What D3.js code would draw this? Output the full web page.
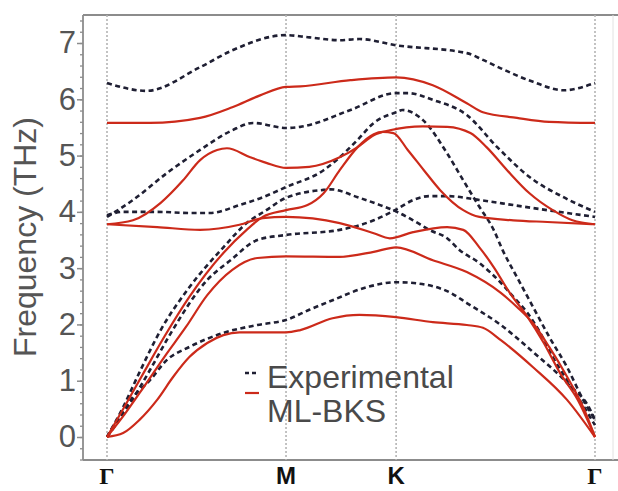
<!DOCTYPE html>
<html>
<head>
<meta charset="utf-8">
<script src="https://cdn.jsdelivr.net/npm/d3@7"></script>
<style>
  body { margin: 0; background: #fff; }
  svg { display: block; }
</style>
</head>
<body>
<div class="chart"></div>
<script>
// high symmetry points along the path
var kTicks = [0, 1.0, 1.615, 2.726];
var kLabels = ["Γ", "M", "K", "Γ"];
var freqTicks = [0, 1, 2, 3, 4, 5, 6, 7];

// experimental branches [k, THz]
var exp1 = [[0,6.29],[0.22,6.15],[0.52,6.57],[0.70,6.87],[1.0,7.14],[1.13,7.10],[1.30,7.05],[1.41,7.07],[1.615,6.96],[2.01,6.82],[2.10,6.70],[2.20,6.55],[2.38,6.31],[2.55,6.16],[2.726,6.29]];
var exp2 = [[0,3.91],[0.145,4.21],[0.335,4.69],[0.52,5.10],[0.70,5.45],[0.816,5.58],[1.0,5.49],[1.08,5.51],[1.36,5.81],[1.615,6.11],[1.68,6.11],[1.82,5.99],[2.01,5.72],[2.18,5.15],[2.36,4.62],[2.55,4.26],[2.726,4.00]];
var exp3 = [[0,3.94],[0.09,4.0],[0.28,4.0],[0.46,3.98],[0.575,3.98],[0.74,4.12],[0.87,4.26],[1.0,4.44],[1.21,4.74],[1.30,4.97],[1.40,5.28],[1.49,5.58],[1.615,5.77],[1.65,5.81],[1.765,5.63],[1.90,5.04],[1.99,4.56],[2.08,4.09],[2.16,3.68],[2.21,3.32],[2.29,2.84],[2.38,2.31],[2.47,1.78],[2.57,1.24],[2.66,0.66],[2.726,0.30]];
var exp4 = [[0,0],[0.09,0.53],[0.18,1.14],[0.30,1.90],[0.46,2.66],[0.65,3.37],[0.78,3.80],[0.89,4.03],[1.0,4.25],[1.21,4.39],[1.25,4.40],[1.40,4.26],[1.525,4.12],[1.62,4.00],[1.71,3.85],[1.80,3.68],[1.90,3.53],[1.97,3.32],[2.08,3.09],[2.20,2.74],[2.27,2.49],[2.35,2.20],[2.42,1.85],[2.49,1.42],[2.57,1.01],[2.64,0.66],[2.726,0.21]];
var exp5 = [[0,0],[0.13,0.60],[0.24,1.19],[0.35,1.81],[0.56,2.79],[0.69,3.14],[0.84,3.50],[1.0,3.59],[1.30,3.68],[1.49,3.85],[1.62,4.05],[1.71,4.21],[1.80,4.28],[1.90,4.28],[2.08,4.21],[2.27,4.12],[2.46,4.03],[2.726,3.91]];
var exp6 = [[0,0],[0.034,0.18],[0.145,0.71],[0.24,1.01],[0.335,1.37],[0.46,1.60],[0.65,1.85],[0.84,1.99],[1.0,2.08],[1.13,2.26],[1.26,2.43],[1.45,2.66],[1.615,2.75],[1.73,2.73],[1.92,2.56],[2.01,2.38],[2.20,1.99],[2.38,1.51],[2.57,0.96],[2.70,0.48],[2.726,0.30]];

// ML-BKS branches [k, THz]
var ml1 = [[0,0],[0.09,0.07],[0.18,0.30],[0.28,0.66],[0.37,1.07],[0.46,1.42],[0.56,1.67],[0.65,1.81],[0.74,1.86],[1.0,1.86],[1.08,1.90],[1.26,2.11],[1.41,2.17],[1.615,2.13],[1.82,2.04],[2.01,1.99],[2.10,1.94],[2.20,1.72],[2.38,1.24],[2.57,0.66],[2.726,0]];
var ml2 = [[0,0],[0.10,0.41],[0.21,0.91],[0.32,1.42],[0.44,1.95],[0.56,2.52],[0.70,2.97],[0.84,3.18],[1.0,3.21],[1.30,3.20],[1.49,3.29],[1.615,3.37],[1.82,3.14],[2.01,2.93],[2.20,2.56],[2.29,2.31],[2.38,2.02],[2.47,1.60],[2.57,1.07],[2.66,0.53],[2.726,0]];
var ml3 = [[0,0],[0.10,0.55],[0.21,1.17],[0.32,1.78],[0.46,2.49],[0.65,3.27],[0.78,3.68],[0.87,3.91],[1.0,4.03],[1.12,4.12],[1.21,4.33],[1.30,4.74],[1.40,5.15],[1.49,5.38],[1.54,5.42],[1.60,5.40],[1.68,5.10],[1.77,4.74],[1.86,4.39],[1.99,4.03],[2.08,3.91],[2.27,3.85],[2.46,3.82],[2.726,3.78]];
var ml4 = [[0,3.78],[0.145,3.85],[0.30,4.16],[0.425,4.56],[0.52,4.92],[0.615,5.10],[0.67,5.13],[0.80,4.97],[0.89,4.87],[1.0,4.78],[1.13,4.80],[1.30,4.97],[1.40,5.15],[1.49,5.36],[1.58,5.45],[1.765,5.52],[1.90,5.51],[2.03,5.40],[2.12,5.15],[2.235,4.74],[2.36,4.33],[2.49,4.03],[2.60,3.85],[2.726,3.78]];
var ml5 = [[0,3.78],[0.28,3.73],[0.52,3.68],[0.74,3.77],[0.87,3.89],[1.0,3.91],[1.30,3.80],[1.49,3.62],[1.58,3.53],[1.71,3.64],[1.90,3.73],[1.99,3.68],[2.08,3.37],[2.16,3.02],[2.25,2.56],[2.35,2.13],[2.44,1.67],[2.53,1.14],[2.63,0.66],[2.726,0]];
var ml6 = [[0,5.58],[0.24,5.58],[0.52,5.67],[0.70,5.86],[0.855,6.07],[1.0,6.22],[1.08,6.23],[1.36,6.34],[1.615,6.39],[1.82,6.25],[2.01,5.93],[2.10,5.77],[2.29,5.67],[2.47,5.60],[2.726,5.58]];

var expBands = [exp1, exp2, exp3, exp4, exp5, exp6];
var mlBands = [ml1, ml2, ml3, ml4, ml5, ml6];

var svgWidth = 618;
var svgHeight = 491;

var margin = { top: 15, right: 5, bottom: 31, left: 83 };

var svg = d3.select(".chart")
  .append("svg")
  .attr("width", svgWidth)
  .attr("height", svgHeight);

var x = d3.scaleLinear()
  .domain([0, 2.726])
  .range([107, 595]);

var y = d3.scaleLinear()
  .domain([0, 7])
  .range([437, 43]);

var plotBottom = svgHeight - margin.bottom;
var plotRight = svgWidth - margin.right;

// frame
var frame = svg.append("g").attr("class", "frame")
  .attr("stroke", "#8c8c8c")
  .attr("stroke-width", 1.8);
frame.append("line")
  .attr("x1", margin.left).attr("x2", svgWidth)
  .attr("y1", margin.top).attr("y2", margin.top);
frame.append("line")
  .attr("x1", margin.left).attr("x2", svgWidth)
  .attr("y1", plotBottom).attr("y2", plotBottom);
frame.append("line")
  .attr("x1", plotRight).attr("x2", plotRight)
  .attr("y1", margin.top).attr("y2", plotBottom)
  .attr("stroke", "#e2e2e2").attr("stroke-width", 1);

// dotted lines at the symmetry points
svg.append("g")
  .attr("class", "kgrid")
  .selectAll("line")
  .data(kTicks)
  .enter().append("line")
    .attr("x1", function(d) { return x(d); })
    .attr("x2", function(d) { return x(d); })
    .attr("y1", margin.top)
    .attr("y2", plotBottom)
    .attr("stroke", "#b4b4b4")
    .attr("stroke-width", 1.6)
    .attr("stroke-dasharray", "2,2");

// y axis, minor then major ticks
var minorTicks = d3.range(-4, 75, 2).map(function(d) { return d / 10; });
svg.append("g")
  .attr("class", "y-minor")
  .attr("transform", "translate(" + margin.left + ",0)")
  .call(d3.axisLeft(y).tickValues(minorTicks).tickSize(3).tickFormat(""))
  .call(function(g) { g.select(".domain").remove(); })
  .selectAll("line").attr("stroke", "#8c8c8c").attr("stroke-width", 1.3);

var yAxis = svg.append("g")
  .attr("class", "y-axis")
  .attr("transform", "translate(" + margin.left + ",0)")
  .call(d3.axisLeft(y).tickValues(freqTicks).tickFormat(d3.format("d"))
    .tickSize(6).tickPadding(1).tickSizeOuter(0));
yAxis.select(".domain")
  .attr("d", "M0," + margin.top + "V" + plotBottom)
  .attr("stroke", "#8c8c8c").attr("stroke-width", 1.8);
yAxis.selectAll(".tick line").attr("stroke", "#8c8c8c").attr("stroke-width", 1.5);
yAxis.selectAll("text")
  .attr("fill", "#555")
  .style("font-family", "'Liberation Sans', Arial, sans-serif")
  .style("font-size", "31px");

svg.append("text")
  .attr("transform", "translate(36,237) rotate(-90)")
  .attr("text-anchor", "middle")
  .attr("fill", "#555")
  .style("font-family", "'Liberation Sans', Arial, sans-serif")
  .style("font-size", "32px")
  .text("Frequency (THz)");

// k labels
svg.append("g")
  .attr("class", "x-labels")
  .selectAll("text")
  .data(kTicks)
  .enter().append("text")
    .attr("x", function(d) { return x(d); })
    .attr("y", 484)
    .attr("text-anchor", "middle")
    .attr("fill", "#111")
    .style("font-weight", "bold")
    .style("font-family", function(d, i) {
      return kLabels[i] === "Γ" ? "'Liberation Serif', serif" : "'Liberation Sans', Arial, sans-serif";
    })
    .style("font-size", "24px")
    .text(function(d, i) { return kLabels[i]; });

var line = d3.line()
  .x(function(d) { return x(d[0]); })
  .y(function(d) { return y(d[1]); })
  .curve(d3.curveMonotoneX);

// experimental
svg.append("g")
  .attr("class", "exp")
  .selectAll("path")
  .data(expBands)
  .enter().append("path")
    .attr("d", line)
    .attr("fill", "none")
    .attr("stroke", "#1f1f33")
    .attr("stroke-width", 2.6)
    .attr("stroke-dasharray", "5,3.5");

// ML-BKS
svg.append("g")
  .attr("class", "ml")
  .selectAll("path")
  .data(mlBands)
  .enter().append("path")
    .attr("d", line)
    .attr("fill", "none")
    .attr("stroke", "#cc2a1a")
    .attr("stroke-width", 2.2);

// legend
var legend = svg.append("g").attr("class", "legend");
legend.append("line")
  .attr("x1", 245).attr("x2", 259).attr("y1", 373).attr("y2", 373)
  .attr("stroke", "#1f1f33").attr("stroke-width", 2.6)
  .attr("stroke-dasharray", "4,3");
legend.append("line")
  .attr("x1", 245).attr("x2", 259).attr("y1", 393).attr("y2", 393)
  .attr("stroke", "#cc2a1a").attr("stroke-width", 2.2);
legend.selectAll("text")
  .data(["Experimental", "ML-BKS"])
  .enter().append("text")
    .attr("x", 267)
    .attr("y", function(d, i) { return 388 + i * 34; })
    .attr("fill", "#4a4a4a")
    .style("font-family", "'Liberation Sans', Arial, sans-serif")
    .style("font-size", "32px")
    .text(function(d) { return d; });
</script>
</body>
</html>
